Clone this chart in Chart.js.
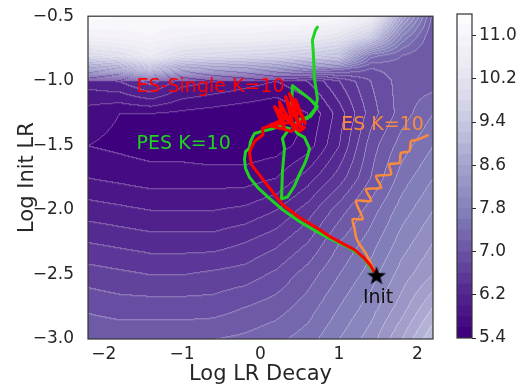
<!DOCTYPE html>
<html>
<head>
<meta charset="utf-8">
<script src="https://cdn.jsdelivr.net/npm/chart.js@4.4.0/dist/chart.umd.min.js"></script>
<style>
  html, body { margin: 0; padding: 0; background: #fff; }
  #wrap { position: relative; width: 520px; height: 386px; }
  #main { position: absolute; left: 0; top: 0; width: 520px; height: 386px; }
  #cbar { position: absolute; left: 440px; top: 0; width: 80px; height: 386px; }
</style>
</head>
<body>
<div id="wrap">
  <canvas id="main" width="520" height="386"></canvas>
  <canvas id="cbar" width="80" height="386"></canvas>
</div>
<script>
// --- data ---
const gridX = [-2.2, -1.8, -1.4, -1.0, -0.6, -0.2, 0.2, 0.6, 1.0, 1.4, 1.8, 2.2];
const gridY = [-0.5, -0.65, -0.8, -0.9, -1.0, -1.25, -1.5, -1.75, -2.0, -2.25, -2.5, -2.75, -3.0];
// loss surface, one row per gridY value (top to bottom)
const lossGrid = [
  [11.3, 11.2, 11.1, 11.2, 11.3, 11.3, 11.3, 11.3, 11.1, 10.6, 8.6, 7.1],
  [10.8, 10.9, 11.0, 10.8, 10.7, 10.7, 10.6, 10.5, 10.2, 9.5, 7.8, 7.0],
  [9.8, 10.0, 10.4, 9.9, 9.8, 9.7, 9.6, 9.4, 9.2, 7.5, 7.2, 7.0],
  [8.2, 8.4, 9.0, 8.3, 8.1, 8.0, 7.8, 7.5, 7.3, 7.0, 7.1, 7.0],
  [6.1, 6.2, 6.5, 6.1, 6.0, 5.9, 5.8, 6.0, 6.4, 6.8, 7.1, 7.1],
  [5.7, 5.6, 5.6, 5.55, 5.5, 5.45, 5.4, 5.6, 6.1, 6.7, 7.1, 7.4],
  [5.6, 5.55, 5.5, 5.5, 5.45, 5.45, 5.5, 5.7, 6.2, 6.9, 7.3, 7.6],
  [5.8, 5.75, 5.7, 5.7, 5.7, 5.7, 5.8, 6.1, 6.5, 7.0, 7.5, 7.8],
  [6.1, 6.05, 6.0, 6.0, 6.0, 6.05, 6.2, 6.5, 6.9, 7.3, 7.7, 8.0],
  [6.4, 6.35, 6.3, 6.3, 6.3, 6.4, 6.55, 6.8, 7.2, 7.5, 7.9, 8.2],
  [6.7, 6.65, 6.6, 6.6, 6.65, 6.7, 6.85, 7.1, 7.4, 7.7, 8.1, 8.4],
  [6.95, 6.9, 6.9, 6.9, 6.9, 7.0, 7.1, 7.3, 7.6, 7.9, 8.3, 8.8],
  [7.2, 7.15, 7.15, 7.15, 7.2, 7.25, 7.35, 7.5, 7.8, 8.1, 8.6, 9.2]
];
const cbLevels = [5.4, 5.6, 5.8, 6.0, 6.2, 6.4, 6.6, 6.8, 7.0, 7.2, 7.4, 7.6, 7.8, 8.0, 8.2, 8.4,
  8.6, 8.8, 9.0, 9.2, 9.4, 9.6, 9.8, 10.0, 10.2, 10.4, 10.6, 10.8, 11.0, 11.2, 11.4];
const cbTicks = [5.4, 6.2, 7.0, 7.8, 8.6, 9.4, 10.2, 11.0];
const xTicks = [-2, -1, 0, 1, 2];
const yTicks = [-3.0, -2.5, -2.0, -1.5, -1.0, -0.5];

// trajectories
const esX = [1.48, 1.431, 1.346, 1.261, 1.219, 1.197, 1.176, 1.303, 1.219, 1.41, 1.346, 1.538, 1.474,
  1.665, 1.643, 1.771, 1.792, 1.898, 1.92, 2.004, 2.131];
const esY = [-2.51, -2.444, -2.341, -2.264, -2.213, -2.136, -2.072, -2.072, -1.931, -1.931, -1.841, -1.828,
  -1.738, -1.725, -1.648, -1.636, -1.559, -1.546, -1.469, -1.456, -1.423];

const singleX = [1.48, 1.401, 1.312, 1.21, 1.045, 0.879, 0.71, 0.497, 0.28, 0.14, 0.013, -0.115, -0.14,
  -0.118, -0.076, 0.029, 0.029, 0.178, 0.369, 0.561, 0.497, 0.178, 0.306, 0.242, 0.433, 0.318, 0.51,
  0.369, 0.573, 0.446, 0.548, 0.395, 0.115, 0.471];
const singleY = [-2.51, -2.429, -2.367, -2.313, -2.259, -2.205, -2.136, -2.059, -1.958, -1.85, -1.75, -1.65,
  -1.557, -1.521, -1.469, -1.418, -1.367, -1.338, -1.323, -1.362, -1.392, -1.2, -1.377, -1.162, -1.377,
  -1.123, -1.362, -1.1, -1.331, -1.146, -1.3, -1.392, -1.346, -1.254];

const pesX = [1.48, 1.414, 1.338, 1.261, 1.096, 0.879, 0.713, 0.497, 0.28, 0.115, -0.038, -0.14, -0.191,
  -0.204, -0.191, -0.14, -0.127, -0.076, 0.013, 0.115, 0.242, 0.369, 0.28, 0.306, 0.28, 0.268, 0.344,
  0.433, 0.497, 0.561, 0.599, 0.624, 0.561, 0.471, 0.408, 0.497, 0.637, 0.726, 0.624, 0.408, 0.395,
  0.497, 0.599, 0.701, 0.726, 0.688, 0.675, 0.662, 0.701, 0.726];
const pesY = [-2.51, -2.456, -2.392, -2.344, -2.282, -2.221, -2.167, -2.09, -1.998, -1.910, -1.825, -1.748,
  -1.678, -1.609, -1.548, -1.523, -1.469, -1.408, -1.392, -1.377, -1.354, -1.369, -1.446, -1.523, -1.7,
  -1.915, -1.9, -1.815, -1.723, -1.646, -1.585, -1.523, -1.438, -1.408, -1.354, -1.3, -1.277, -1.2,
  -1.138, -1.038, -1.215, -1.315, -1.292, -1.215, -1.138, -0.985, -0.8, -0.685, -0.608, -0.585];

const initX = [1.48];
const initY = [-2.51];

// annotation text anchors (data coords)
const notes = [
  { text: 'ES-Single K=10', x: -1.58, y: -1.05, color: '#ff0000', align: 'left' },
  { text: 'PES K=10', x: -1.58, y: -1.49, color: '#1fd41f', align: 'left' },
  { text: 'ES K=10', x: 1.03, y: -1.34, color: '#f88b3e', align: 'left' },
  { text: 'Init', x: 1.5, y: -2.68, color: '#111111', align: 'center' }
];

// --- helpers ---
const FONT = 'DejaVu Sans';
const INK = '#262626';
const purples = ['#fcfbfd', '#efedf5', '#dadaeb', '#bcbddc', '#9e9ac8', '#807dba', '#6a51a3', '#54278f', '#3f007d'];

function hexRgb(h) { return [1, 3, 5].map(i => parseInt(h.substr(i, 2), 16)); }
const purplesRgb = purples.map(hexRgb);

// t = 0 -> dark (low loss), t = 1 -> white (high loss)
function cmap(t) {
  t = Math.max(0, Math.min(1, t));
  const s = (1 - t) * 8;
  const i = Math.min(7, Math.floor(s));
  const f = s - i;
  const a = purplesRgb[i], b = purplesRgb[i + 1];
  return [0, 1, 2].map(k => Math.round(a[k] + (b[k] - a[k]) * f));
}
const nBands = cbLevels.length - 1;
const bandRgb = cbLevels.slice(0, -1).map((_, k) => cmap(k / (nBands - 1)));

function locate(arr, v) {
  // index i such that v lies between arr[i] and arr[i+1]
  for (let i = 0; i < arr.length - 1; i++) {
    const lo = Math.min(arr[i], arr[i + 1]), hi = Math.max(arr[i], arr[i + 1]);
    if (v >= lo && v <= hi) return [i, (v - arr[i]) / (arr[i + 1] - arr[i])];
  }
  const inc = arr[1] > arr[0];
  return (v < arr[0]) === inc ? [0, 0] : [arr.length - 2, 1];
}
function lossAt(x, y) {
  const [i, fx] = locate(gridX, x);
  const [j, fy] = locate(gridY, y);
  const a = lossGrid[j][i], b = lossGrid[j][i + 1], c = lossGrid[j + 1][i], d = lossGrid[j + 1][i + 1];
  return (a * (1 - fx) + b * fx) * (1 - fy) + (c * (1 - fx) + d * fx) * fy;
}
function bandOf(v) {
  let k = Math.floor((v - cbLevels[0]) / (cbLevels[1] - cbLevels[0]));
  return Math.max(0, Math.min(nBands - 1, k));
}
const pts = (xs, ys) => xs.map((x, i) => ({ x, y: ys[i] }));
const minus = s => s.replace('-', '\u2212');

// filled contour background + thin level lines
const surfacePlugin = {
  id: 'surface',
  beforeDatasetsDraw(chart) {
    const { ctx, chartArea: a, scales: { x, y } } = chart;
    const w = Math.round(a.right - a.left), h = Math.round(a.bottom - a.top);
    const off = document.createElement('canvas');
    off.width = w; off.height = h;
    const octx = off.getContext('2d');
    const img = octx.createImageData(w, h);
    const bands = new Int16Array(w * h);
    for (let j = 0; j < h; j++) {
      const yv = y.getValueForPixel(a.top + j + 0.5);
      for (let i = 0; i < w; i++) {
        const xv = x.getValueForPixel(a.left + i + 0.5);
        bands[j * w + i] = bandOf(lossAt(xv, yv));
      }
    }
    for (let j = 0; j < h; j++) {
      for (let i = 0; i < w; i++) {
        const k = bands[j * w + i];
        let [r, g, b] = bandRgb[k];
        const edge = (i > 0 && bands[j * w + i - 1] !== k) || (j > 0 && bands[(j - 1) * w + i] !== k);
        if (edge) { r += (255 - r) * 0.32; g += (255 - g) * 0.32; b += (255 - b) * 0.32; }
        const p = (j * w + i) * 4;
        img.data[p] = r; img.data[p + 1] = g; img.data[p + 2] = b; img.data[p + 3] = 255;
      }
    }
    octx.putImageData(img, 0, 0);
    ctx.drawImage(off, a.left, a.top);
  },
  afterDatasetsDraw(chart) {
    const { ctx, scales: { x, y } } = chart;
    ctx.save();
    ctx.font = '19px "' + FONT + '"';
    ctx.textBaseline = 'middle';
    notes.forEach(n => {
      ctx.fillStyle = n.color;
      ctx.textAlign = n.align;
      ctx.fillText(n.text, x.getPixelForValue(n.x), y.getPixelForValue(n.y));
    });
    ctx.restore();
  }
};

const framePlugin = {
  id: 'frame',
  afterDraw(chart) {
    const { ctx, chartArea: a } = chart;
    ctx.save();
    ctx.strokeStyle = '#333';
    ctx.lineWidth = 1.2;
    ctx.strokeRect(a.left, a.top, a.right - a.left, a.bottom - a.top);
    ctx.restore();
  }
};

// filled black star for the Init marker
const star = document.createElement('canvas');
star.width = 22; star.height = 22;
(function () {
  const c = star.getContext('2d');
  c.beginPath();
  for (let i = 0; i < 10; i++) {
    const r = i % 2 ? 4 : 10;
    const ang = -Math.PI / 2 + i * Math.PI / 5;
    c.lineTo(11 + r * Math.cos(ang), 11.5 + r * Math.sin(ang));
  }
  c.closePath();
  c.fillStyle = '#000';
  c.fill();
})();

const lineDefaults = { showLine: true, pointRadius: 0, borderWidth: 3, tension: 0,
  borderJoinStyle: 'round', borderCapStyle: 'round', fill: false };

new Chart(document.getElementById('main'), {
  type: 'scatter',
  data: {
    datasets: [
      { data: pts(initX, initY), pointStyle: star, pointRadius: 10, order: 0, showLine: false },
      { ...lineDefaults, data: pts(singleX, singleY), borderColor: '#ff0000', order: 1 },
      { ...lineDefaults, data: pts(pesX, pesY), borderColor: '#1fd41f', order: 2 },
      { ...lineDefaults, data: pts(esX, esY), borderColor: '#f88b3e', borderWidth: 2.6, tension: 0.25, order: 3 }
    ]
  },
  options: {
    responsive: false,
    animation: false,
    devicePixelRatio: 1,
    layout: { padding: { top: 15, right: 87, left: 0, bottom: 0 } },
    plugins: { legend: { display: false }, tooltip: { enabled: false } },
    scales: {
      x: {
        type: 'linear', min: -2.2, max: 2.2,
        grid: { display: false }, border: { display: false },
        afterBuildTicks: s => { s.ticks = xTicks.map(v => ({ value: v })); },
        ticks: { color: INK, font: { family: FONT, size: 17 }, padding: -3, callback: v => minus(String(v)) },
        title: { display: true, text: 'Log LR Decay', color: INK, font: { family: FONT, size: 21 }, padding: { top: 0, bottom: -1 } },
        afterFit: s => { s.height = 47; }
      },
      y: {
        type: 'linear', min: -3, max: -0.5,
        grid: { display: false }, border: { display: false },
        afterBuildTicks: s => { s.ticks = yTicks.map(v => ({ value: v })); },
        ticks: { color: INK, font: { family: FONT, size: 17 }, padding: 6, callback: v => minus(v.toFixed(1)) },
        title: { display: true, text: 'Log Init LR', color: INK, font: { family: FONT, size: 21 }, padding: { top: 15, bottom: 0 } },
        afterFit: s => { s.width = 88; }
      }
    }
  },
  plugins: [surfacePlugin, framePlugin]
});

// colorbar
new Chart(document.getElementById('cbar'), {
  type: 'bar',
  data: {
    labels: [''],
    datasets: cbLevels.slice(0, -1).map((lo, k) => ({
      data: [[lo, cbLevels[k + 1]]],
      backgroundColor: 'rgb(' + bandRgb[k].join(',') + ')',
      borderWidth: 0, barPercentage: 1, categoryPercentage: 1, grouped: false
    }))
  },
  options: {
    responsive: false,
    animation: false,
    devicePixelRatio: 1,
    layout: { padding: { top: 14, right: 0, left: 17, bottom: 48 } },
    plugins: { legend: { display: false }, tooltip: { enabled: false } },
    scales: {
      x: { display: false },
      y: {
        position: 'right', min: 5.4, max: 11.4,
        grid: { display: true, drawOnChartArea: false, tickLength: 4, tickColor: INK, color: INK },
        border: { display: false },
        afterBuildTicks: s => { s.ticks = cbTicks.map(v => ({ value: v })); },
        ticks: { color: INK, font: { family: FONT, size: 17 }, padding: 3, callback: v => v.toFixed(1) },
        afterFit: s => { s.width = 48; }
      }
    }
  },
  plugins: [framePlugin]
});
</script>
</body>
</html>
